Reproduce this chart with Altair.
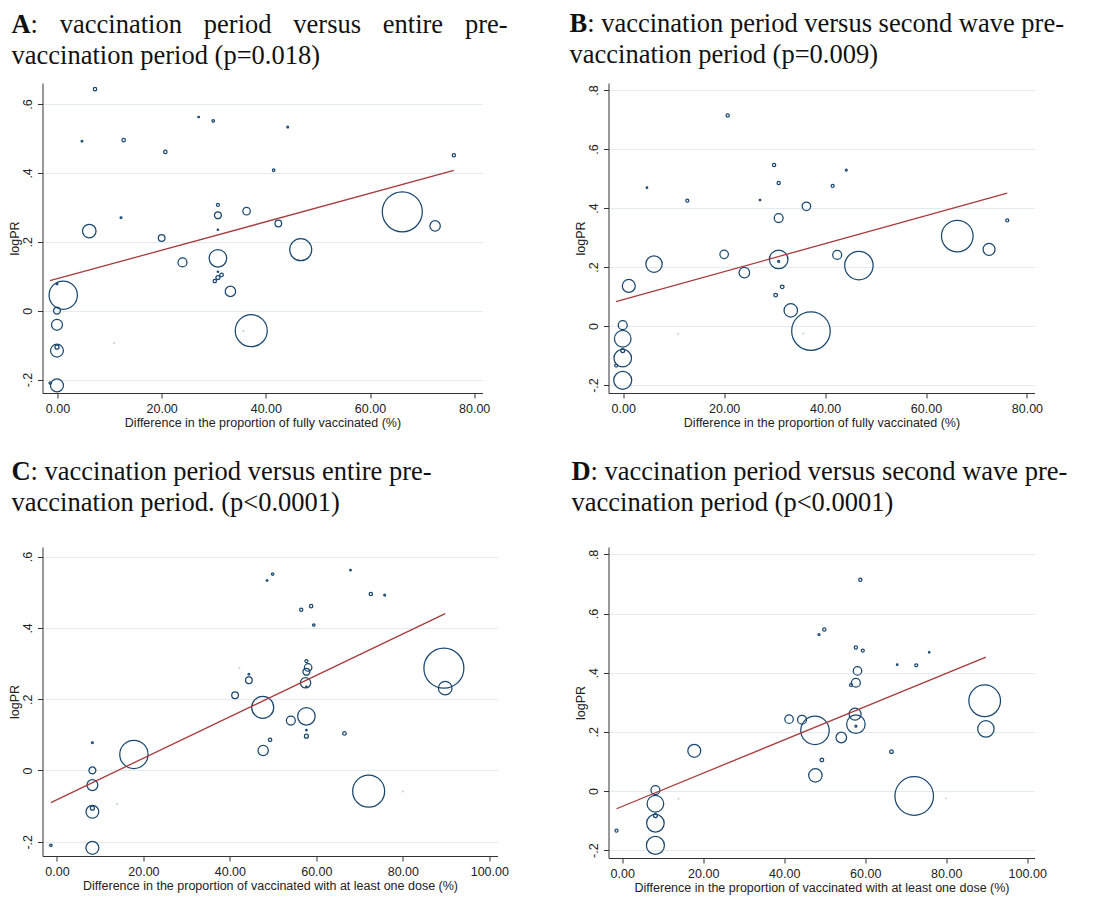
import altair as alt
import pandas as pd

nan = float("nan")

# ---- study-level values (one entry per study) ----
x_fully = [7.2, 4.7, 12.7, 27.1, 29.9, 44.2, 20.7, 41.5, 76.1, 12.2, 6.1, 30.8, 30.8, 36.3, 30.8, 20.0,
           42.4, 66.2, 72.5, 46.7, 24.0, 30.8, 30.8, 31.5, 30.8, 30.2, 33.2, 1.1, -0.1, -0.1, -0.1, -0.1,
           -0.1, -0.1, -1.4, 37.2, 35.7, 10.9, nan]
x_onedose = [nan, 75.8, 72.6, 67.9, 49.9, 48.6, 58.8, 59.4, 56.5, 44.4, 89.8, 57.7, 57.7, 58.1, 57.7, 41.2,
             44.4, 89.5, 57.5, 47.6, 54.1, 57.7, 57.7, 66.5, 57.7, 49.3, 47.7, 17.8, 8.2, 8.2, 8.2, 8.2,
             8.2, 8.2, -1.4, 72.1, 80.0, 13.9, 42.2]
logpr_entire = [0.643, 0.492, 0.495, 0.562, 0.551, 0.533, 0.461, 0.408, 0.451, 0.270, 0.231, 0.307, 0.277,
                0.289, 0.235, 0.211, 0.253, 0.287, 0.246, 0.177, 0.140, 0.152, 0.113, 0.104, 0.096, 0.086,
                0.056, 0.045, 0.078, 0.0, -0.041, -0.116, -0.106, -0.217, -0.210, -0.058, -0.059, -0.094, 0.287]
logpr_second = [nan, 0.469, 0.425, 0.427, 0.546, 0.529, 0.714, 0.475, 0.358, nan, 0.210, 0.485, 0.366,
                0.406, 0.219, 0.243, 0.241, 0.305, 0.260, 0.205, 0.181, 0.226, nan, 0.133, nan, 0.105,
                0.053, 0.136, nan, 0.003, -0.043, -0.109, -0.083, -0.184, -0.134, -0.017, -0.025, -0.026, nan]
# relative analytic weights (marker area) for the two outcomes
weight_entire = [2.9, 0.8, 2.9, 0.6, 1.4, 0.8, 2.9, 1.4, 2.6, 0.8, 46, 2.3, 12, 14, 0.5, 11, 11, 400, 27,
                 121, 20, 77, 0.5, 3.2, 4, 2.9, 27, 200, 0.8, 12, 30, 41, 4, 42, 1.4, 256, 0.12, 0.12, 0.12]
weight_second = [nan, 0.6, 2.3, 0.6, 2.6, 1.0, 2.6, 2.3, 2.3, nan, 67, 2.6, 20, 18, 1.0, 18, 20, 250, 36,
                 202, 28, 86, nan, 3.2, nan, 3.2, 45, 42, nan, 20, 69, 77, 4, 81, 2.3, 372, 0.12, 0.12, nan]

# weighted fit lines (endpoints)
fit_x_fully = [-1.45, 76.1]
fit_x_onedose = [-1.4, 89.8]
fit_A = [0.087, 0.407]
fit_B = [0.0825, 0.451]
fit_C = [-0.090, 0.440]
fit_D = [-0.060, 0.453]

xticks_fully = [0, 20, 40, 60, 80]
xticks_onedose = [0, 20, 40, 60, 80, 100]
yticks_A = [-0.2, 0, 0.2, 0.4, 0.6]
yticks_B = [-0.2, 0, 0.2, 0.4, 0.6, 0.8]

xtitle_fully = "Difference in the proportion of fully vaccinated (%)"
xtitle_onedose = "Difference in the proportion of vaccinated with at least one dose (%)"

titles = {
    "A": ["A", ":", "vaccination", "period", "versus", "entire", "pre-", "vaccination period (p=0.018)"],
    "B": ["B", ": vaccination period versus second wave pre-", "vaccination period (p=0.009)"],
    "C": ["C", ": vaccination period versus entire pre-", "vaccination period. (p<0.0001)"],
    "D": ["D", ": vaccination period versus second wave pre-", "vaccination period (p<0.0001)"],
}

df = pd.DataFrame({
    "x_fully": x_fully, "x_onedose": x_onedose,
    "logpr_entire": logpr_entire, "logpr_second": logpr_second,
    "w_entire": weight_entire, "w_second": weight_second,
})

NAVY = "#1a476f"
RED = "#a83a3c"
SANS = "Liberation Sans"
SERIF = "Liberation Serif"
TS = 26.5

YLABEL = "datum.value == 0 ? '0' : (datum.value < 0 ? '-' : '') + replace(format(abs(datum.value), '.1f'), '0.', '.')"


def txt(s, x, y, bold=False):
    return alt.Chart(pd.DataFrame({"t": [s]})).mark_text(
        font=SERIF, fontSize=TS, fontWeight="bold" if bold else "normal",
        align="left", baseline="alphabetic", color="#111111"
    ).encode(text="t:N", x=alt.value(x), y=alt.value(y))


def panel(xcol, ycol, wcol, xdom, ydom, xticks, yticks, w, h, xtitle, fit_x, fit_y, title_layers):
    X = alt.X(f"{xcol}:Q",
              scale=alt.Scale(domain=xdom, nice=False, zero=False),
              axis=alt.Axis(values=xticks, format=".2f", title=xtitle, grid=False,
                            labelFont=SANS, titleFont=SANS, labelFontSize=12.5, titleFontSize=12.5,
                            titleFontWeight="normal", labelColor="#222222", titleColor="#222222",
                            domainColor="#333333", tickColor="#333333", tickSize=5,
                            labelPadding=4, titlePadding=2, labelFlush=False, labelOverlap=False))
    Y = alt.Y(f"{ycol}:Q",
              scale=alt.Scale(domain=ydom, nice=False, zero=False),
              axis=alt.Axis(values=yticks, labelExpr=YLABEL, title="logPR", grid=True,
                            gridColor="#e3ebee", gridWidth=1,
                            labelFont=SANS, titleFont=SANS, labelFontSize=12.5, titleFontSize=12.5,
                            titleFontWeight="normal", labelColor="#222222", titleColor="#222222",
                            domainColor="#333333", tickColor="#333333", tickSize=5,
                            labelAngle=270, labelAlign="center", labelBaseline="bottom",
                            labelPadding=3, titleX=-28, titleAngle=270, titleBaseline="middle",
                            labelOverlap=False))
    pts = alt.Chart(df).transform_filter(
        f"isValid(datum.{xcol}) && isValid(datum.{ycol}) && isValid(datum.{wcol})"
    ).mark_point(shape="circle", filled=False, strokeWidth=1.25, color=NAVY, opacity=1).encode(
        x=X, y=Y,
        size=alt.Size(f"{wcol}:Q", scale=alt.Scale(type="linear", domain=[0, 400], range=[0, 1600]), legend=None),
        strokeOpacity=alt.condition(f"datum.{wcol} < 0.2", alt.value(0.3), alt.value(1.0)),
    )
    fit = alt.Chart(pd.DataFrame({xcol: fit_x, ycol: fit_y})).mark_line(
        color=RED, strokeWidth=1.3).encode(x=X, y=Y)
    return alt.layer(pts, fit, *title_layers).properties(width=w, height=h)


tA = titles["A"]
title_A = [txt(tA[0], -31, -50, True), txt(tA[1], -11.9, -50), txt(tA[2], 17.3, -50),
           txt(tA[3], 161.3, -50), txt(tA[4], 250.8, -50), txt(tA[5], 340.3, -50),
           txt(tA[6], 422.4, -50), txt(tA[7], -31, -19)]
tB = titles["B"]
title_B = [txt(tB[0], -39, -51, True), txt(tB[1], -21.3, -51), txt(tB[2], -39, -20)]
tC = titles["C"]
title_C = [txt(tC[0], -31, -67.3, True), txt(tC[1], -11.9, -67.3), txt(tC[2], -31, -36.3)]
tD = titles["D"]
title_D = [txt(tD[0], -37, -67, True), txt(tD[1], -17.9, -67), txt(tD[2], -37, -36)]

A = panel("x_fully", "logpr_entire", "w_entire", [-2.88, 81.6], [-0.239, 0.661], xticks_fully, yticks_A,
          440, 310, xtitle_fully, fit_x_fully, fit_A, title_A)
B = panel("x_fully", "logpr_second", "w_second", [-2.92, 81.5], [-0.227, 0.824], xticks_fully, yticks_B,
          426, 310, xtitle_fully, fit_x_fully, fit_B, title_B)
C = panel("x_onedose", "logpr_entire", "w_entire", [-3.34, 101.9], [-0.240, 0.627], xticks_onedose, yticks_A,
          455, 309, xtitle_onedose, fit_x_onedose, fit_C, title_C)
D = panel("x_onedose", "logpr_second", "w_second", [-3.38, 101.8], [-0.2265, 0.825], xticks_onedose, yticks_B,
          426, 311, xtitle_onedose, fit_x_onedose, fit_D, title_D)

chart = alt.concat(A, B, C, D, columns=2, spacing={"row": 154, "column": 111}, bounds="flush").properties(
    padding={"left": 8.5, "top": 11, "right": 5, "bottom": 5},
    background="white",
).configure_view(stroke=None)

chart.save("out.html", embed_options={"renderer": "svg", "actions": False})
